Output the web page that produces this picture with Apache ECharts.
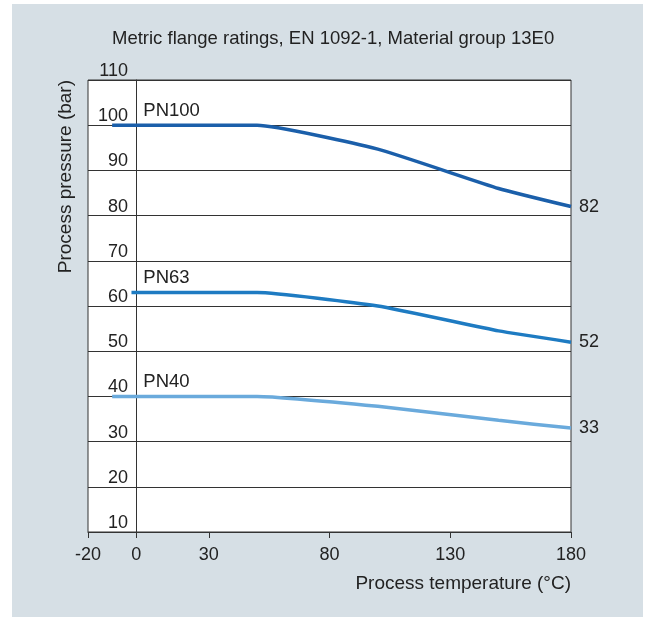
<!DOCTYPE html>
<html>
<head>
<meta charset="utf-8">
<script src="https://cdn.jsdelivr.net/npm/echarts@6/dist/echarts.min.js"></script>
<style>
  html, body { margin: 0; padding: 0; background: #fff; }
  #chart {
    position: absolute;
    left: 12px;
    top: 4px;
    width: 631px;
    height: 613px;
    background: #d6dfe5;
  }
</style>
</head>
<body>
<div id="chart"></div>
<script>
// temperatures (°C) and pressures (bar)
const pn100Temp = [-10, 50, 100, 150, 180];
const pn100Bar = [100, 100, 94.7, 86, 82];
const pn63Temp = [-2, 50, 100, 150, 180];
const pn63Bar = [63, 63, 60, 54.5, 52];
const pn40Temp = [-10, 50, 100, 150, 180];
const pn40Bar = [40, 40, 37.8, 34.7, 33];
const xTicks = [-20, 0, 30, 80, 130, 180];

const pair = (xs, ys) => xs.map((x, i) => [x, ys[i]]);

function makeSeries(name, temps, bars, color, labelAt) {
  return {
    name: name,
    type: 'line',
    data: pair(temps, bars),
    smooth: 0.15,
    symbol: 'none',
    lineStyle: { color: color, width: 3.5 },
    endLabel: {
      show: true,
      formatter: (p) => String(p.value[1]),
      color: '#222',
      fontSize: 18,
      distance: 8
    },
    markPoint: {
      symbol: 'circle',
      symbolSize: 0,
      silent: true,
      data: [{ coord: labelAt }],
      label: {
        show: true,
        formatter: name,
        position: 'right',
        align: 'left',
        verticalAlign: 'bottom',
        offset: [2, -5],
        color: '#222',
        fontSize: 18.5
      }
    }
  };
}

const chart = echarts.init(document.getElementById('chart'));
chart.setOption({
  animation: false,
  textStyle: { fontFamily: 'Liberation Sans, Arial, sans-serif' },
  title: {
    text: 'Metric flange ratings, EN 1092-1, Material group 13E0',
    left: 95,
    top: 20,
    textStyle: { fontSize: 18.5, fontWeight: 'normal', color: '#222' }
  },
  graphic: [{
    type: 'text',
    left: 44,
    top: 76,
    rotation: Math.PI / 2,
    style: {
      text: 'Process pressure (bar)',
      fill: '#222',
      font: '19px Liberation Sans, Arial, sans-serif'
    }
  }],
  grid: {
    left: 76,
    right: 72,
    top: 76,
    bottom: 85,
    show: true,
    backgroundColor: '#fff',
    borderColor: '#333',
    borderWidth: 1
  },
  xAxis: {
    type: 'value',
    min: -20,
    max: 180,
    interval: 10,
    name: 'Process temperature (°C)',
    nameLocation: 'end',
    nameGap: 0,
    nameTextStyle: {
      fontSize: 19,
      color: '#222',
      align: 'right',
      verticalAlign: 'top',
      padding: [42, 0, 0, 0]
    },
    axisLine: { show: true, lineStyle: { color: '#333' } },
    axisTick: { show: true, length: 6, customValues: xTicks, lineStyle: { color: '#333' } },
    axisLabel: { customValues: xTicks, fontSize: 18, color: '#222', margin: 14 },
    splitLine: { show: false }
  },
  yAxis: {
    type: 'value',
    min: 10,
    max: 110,
    interval: 10,
    offset: -48,
    axisLine: { show: true, onZero: false, lineStyle: { color: '#333' } },
    axisTick: { show: false },
    axisLabel: { fontSize: 18, color: '#222', margin: 8, verticalAlign: 'bottom', showMinLabel: true, showMaxLabel: true },
    splitLine: { show: true, lineStyle: { color: '#333', width: 1 } }
  },
  series: [
    makeSeries('PN100', pn100Temp, pn100Bar, '#1b5faa', [0, 100]),
    makeSeries('PN63', pn63Temp, pn63Bar, '#1e7bc2', [0, 63]),
    makeSeries('PN40', pn40Temp, pn40Bar, '#6aaadc', [0, 40])
  ]
});
</script>
</body>
</html>
